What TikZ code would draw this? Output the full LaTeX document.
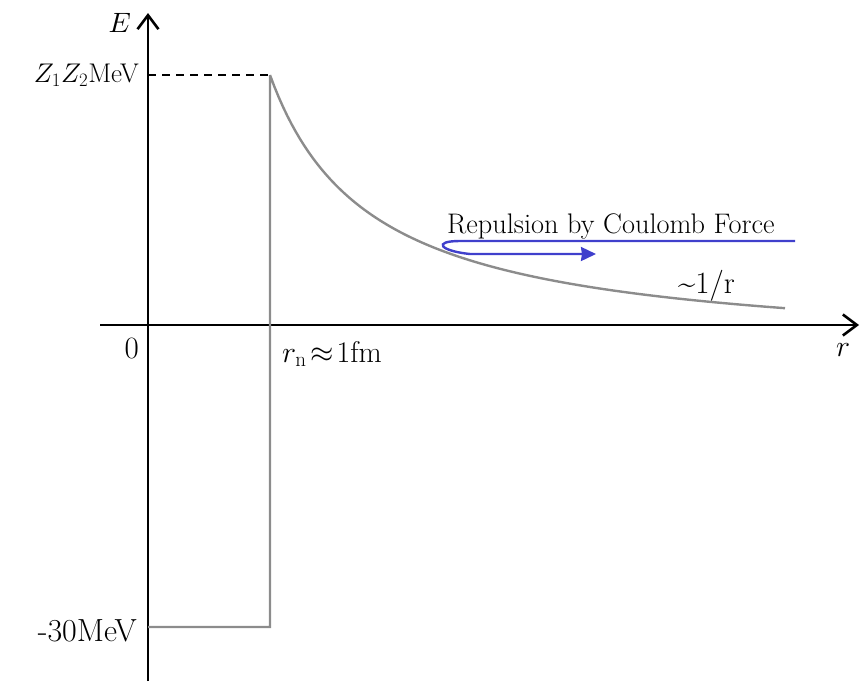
\RequirePackage{fix-cm}
\documentclass[tikz,border=0pt]{standalone}
\usepackage{graphicx}
\usetikzlibrary{arrows.meta}
\definecolor{curvegray}{RGB}{140,140,140}
\definecolor{arrowblue}{RGB}{64,64,204}
\newcommand{\fsz}[1]{\fontsize{#1}{#1}\selectfont}
\begin{document}
\begin{tikzpicture}[x=1pt,y=-1pt,
  axis/.style={line width=2.6pt,black},
  pot/.style={line width=2.4pt,curvegray},
  lbl/.style={inner sep=0pt},
  barb/.style={-{Straight Barb[length=14pt,width=21pt,line width=2.6pt]}}]
\useasboundingbox (0,0) rectangle (861,681);
% axes
\coordinate (ebot) at (148,681);
\coordinate (etop) at (148,13);
\coordinate (rleft) at (100,325);
\coordinate (rright) at (859,325);
\draw[axis,barb] (ebot) -- (etop);
\draw[axis,barb] (rleft) -- (rright);
% potential
\coordinate (w0) at (148,627);
\coordinate (w1) at (270,627);
\coordinate (w2) at (270,75);
\coordinate (d0) at (148,75);
\draw[axis,dash pattern=on 8pt off 6pt,line width=2.4pt] (d0) -- (w2);
\draw[pot,line join=miter] (w0) -- (w1) -- (w2)
  -- plot[domain=270:785,samples=120] (\x,{353.9-281.66/((\x-169)/100)});
% blue arrow
\coordinate (b0) at (795,241);
\coordinate (b1) at (460,241);
\coordinate (b2) at (596,254);
\draw[arrowblue,line width=2.4pt,-{Stealth[length=15pt,width=14pt,inset=1pt]}]
  (b0) -- (b1) .. controls (432,241) and (440,251) .. (470,254) -- (b2);
% labels
\node[lbl,anchor=base east] (lE) at (131,32) {\scalebox{2.8}{$E$}};
\node[lbl,anchor=base east,font=\fsz{27}] (lZ) at (139,82) {$Z_1Z_2$MeV};
\node[lbl,anchor=base east,font=\fsz{32}] (l30) at (137,641) {-30MeV};
\node[lbl,anchor=base east,font=\fsz{31}] (l0) at (139,358) {0};
\node[lbl,anchor=base west,font=\fsz{30}] (lrn) at (282,362) {$r_{\mathrm{n}}\!\approx\!1$fm};
\node[lbl,anchor=base west,font=\fsz{30}] (lr) at (836,356) {$r$};
\node[lbl,anchor=base west,font=\fsz{31}] (linv) at (678,293) {\textasciitilde1/r};
\node[lbl,anchor=base west,font=\fsz{28.3}] (lrep) at (447,233) {Repulsion by Coulomb Force};
\end{tikzpicture}
\end{document}
